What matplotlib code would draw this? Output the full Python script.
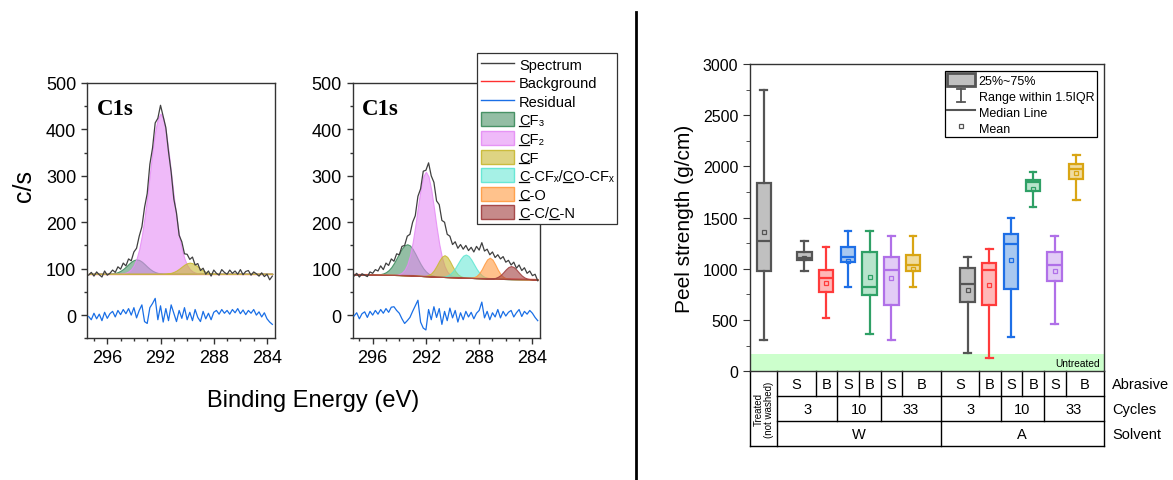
import numpy as np
import matplotlib
matplotlib.use("Agg")
import matplotlib.pyplot as plt
from matplotlib.patches import Patch
from matplotlib.lines import Line2D
from matplotlib.legend_handler import HandlerBase
from matplotlib.ticker import MultipleLocator
import matplotlib.colors as mcolors

plt.rcParams['font.family'] = ['Liberation Sans', 'DejaVu Sans']

# ---------------- XPS data (C1s) ----------------
energy = np.round(297.4 - 0.2 * np.arange(70), 1)   # binding energy grid (eV)

spec1 = [86, 92, 84, 93, 87, 82, 95, 86, 90, 97,
         92, 104, 99, 112, 106, 121, 117, 136, 144, 170,
         190, 232, 262, 325, 360, 414, 424, 452, 428, 404,
         352, 308, 250, 220, 172, 158, 132, 131, 120, 125,
         108, 111, 96, 101, 88, 95, 84, 97, 90, 86,
         98, 92, 88, 97, 90, 95, 88, 98, 87, 94,
         96, 86, 93, 89, 84, 91, 83, 88, 76, 84]
resid1 = [-3, -10, 4, -8, 2, -12, 6, -7, 3, 8,
          -4, 10, 1, 12, 3, 14, 0, 16, -6, 10,
          22, -14, -18, 16, 25, 36, -10, 20, -15, 14,
          -12, 22, 4, -14, 10, -7, 16, -10, 6, -12,
          12, -5, -14, 8, -8, 4, -10, 6, 10, 2,
          12, 4, 10, 2, 12, 5, 14, 3, 11, 1,
          10, 4, 12, 0, 7, -4, 5, -8, -15, -20]
bg1 = [89.0] * 70
cf3_1 = [0] * 8 + [0.4, 0.9, 1.9, 3.7, 6.5, 10.5, 15.5, 21.0, 26.1, 29.7, 31, 29.7, 26.1,
                   21.0, 15.5, 10.5, 6.5, 3.7, 1.9, 0.9, 0.4] + [0] * 41
cf2_1 = [0] * 12 + [0.5, 1.1, 2.5, 5.2, 10.1, 18.6, 32.5, 53.3, 82.6, 121, 166, 216, 265,
                    307, 335, 345, 335, 307, 265, 216, 166, 121, 82.6, 53.3, 32.5, 18.6,
                    10.1, 5.2, 2.5, 1.1, 0.5] + [0] * 27
cf_1 = [0] * 29 + [0.4, 1.0, 2.1, 4.1, 7.0, 10.9, 15.4, 19.7, 22.8, 24, 22.8, 19.7, 15.4,
                   10.9, 7.0, 4.1, 2.1, 1.0, 0.4] + [0] * 22

spec2 = [84, 90, 82, 89, 86, 83, 93, 90, 98, 95,
         106, 98, 112, 107, 121, 116, 132, 130, 148, 150,
         170, 174, 200, 214, 256, 272, 310, 312, 328, 300,
         286, 246, 238, 204, 200, 174, 170, 152, 158, 144,
         152, 142, 150, 139, 146, 136, 148, 140, 156, 138,
         142, 130, 136, 124, 130, 121, 126, 114, 118, 108,
         114, 101, 108, 96, 102, 90, 95, 85, 88, 74]
resid2 = [-2, 5, -8, 3, 7, -5, 8, 0, 10, 2,
          12, 4, 14, 6, 17, 18, 10, 4, -8, -18,
          -12, -5, 8, 20, 32, -15, -28, -32, 12, -10,
          18, -5, 14, -20, 8, -12, 15, -6, 10, -15,
          5, -10, 8, -4, 6, -8, 4, 10, 28, -6,
          8, -10, 5, -4, 12, -6, 8, -2, 6, 10,
          -4, 5, 12, -3, 8, 2, 10, 4, -5, -12]
bg2 = [87.5, 87.5, 87.4, 87.4, 87.3, 87.3, 87.2, 87.2, 87.1, 87.0,
       87.0, 86.9, 86.8, 86.7, 86.6, 86.5, 86.4, 86.3,
       86.1, 85.9, 85.7, 85.5, 85.2, 85.0, 84.7, 84.4, 84.1, 83.8,
       83.5, 83.2, 83.0, 82.7, 82.5, 82.3, 82.1, 81.9, 81.7, 81.5,
       81.3, 81.1, 80.9, 80.7, 80.5, 80.3, 80.1, 79.9, 79.7, 79.5,
       79.3, 79.1, 78.9, 78.7, 78.5, 78.3, 78.2, 78.0, 77.9, 77.8,
       77.7, 77.6, 77.5, 77.4, 77.3, 77.2, 77.1, 77.0, 76.9, 76.8, 76.7, 76.6]
cf3_2 = [0] * 9 + [0.6, 1.4, 3.0, 5.7, 10.2, 16.8, 25.7, 36.3, 47.4, 57.5, 64.5, 67, 64.5,
                   57.5, 47.4, 36.3, 25.7, 16.8, 10.2, 5.7, 3.0, 1.4, 0.6] + [0] * 38
cf2_2 = [0] * 16 + [0.8, 2.2, 5.3, 11.7, 23.4, 42.7, 70.9, 107.4, 148.5, 187, 214.9, 225,
                    214.9, 187, 148.5, 107.4, 70.9, 42.7, 23.4, 11.7, 5.3, 2.2, 0.8] + [0] * 31
cf_2 = [0] * 26 + [0.3, 1.1, 2.9, 6.8, 13.7, 23.5, 34.5, 43.5, 47, 43.5, 34.5, 23.5, 13.7,
                   6.8, 2.9, 1.1, 0.3] + [0] * 27
ccfx_2 = [0] * 33 + [0.5, 1.3, 3.1, 6.5, 12.2, 20.2, 30.1, 39.9, 47.3, 50, 47.3, 39.9, 30.1,
                     20.2, 12.2, 6.5, 3.1, 1.3, 0.5] + [0] * 18
co_2 = [0] * 44 + [0.5, 1.7, 4.6, 10.4, 19.7, 31.2, 41.1, 45, 41.1, 31.2, 19.7, 10.4, 4.6,
                   1.7, 0.5] + [0] * 11
cc_2 = [0] * 52 + [0.6, 1.7, 4.1, 8.1, 14.0, 20.6, 25.9, 28, 25.9, 20.6, 14.0, 8.1, 4.1,
                   1.7, 0.6] + [0] * 3

comp_names = ['CF\u2083', 'CF\u2082', 'CF', 'C-CF\u2093/CO-CF\u2093', 'C-O', 'C-C/C-N']
comp_underline = [[0], [0], [0], [0, 6], [0], [0, 4]]   # character indices underlined
comp_colors = ['#3a8a5a', '#e58cf5', '#c8b830', '#5ee6d2', '#ff9a40', '#a03c3c']
comp_alpha = [0.55, 0.6, 0.6, 0.55, 0.6, 0.6]
comps1 = [cf3_1, cf2_1, cf_1, None, None, None]
comps2 = [cf3_2, cf2_2, cf_2, ccfx_2, co_2, cc_2]

# ---------------- Peel strength data ----------------
box_labels = ['Treated', 'W-3-S', 'W-3-B', 'W-10-S', 'W-10-B', 'W-33-S', 'W-33-B',
              'A-3-S', 'A-3-B', 'A-10-S', 'A-10-B', 'A-33-S', 'A-33-B']
whislo = [309, 983, 518, 827, 365, 309, 827, 182, 130, 335, 1605, 465, 1674]
q1 = [983, 1088, 778, 1065, 749, 645, 980, 674, 651, 801, 1762, 879, 1876]
med = [1270, 1107, 909, 1114, 827, 986, 1039, 853, 987, 1244, 1847, 1039, 1974]
q3 = [1840, 1169, 986, 1218, 1169, 1114, 1139, 1012, 1061, 1345, 1866, 1163, 2019]
whishi = [2749, 1270, 1218, 1374, 1374, 1322, 1322, 1117, 1195, 1501, 1944, 1322, 2116]
means = [1361, 1110, 866, 1078, 918, 912, 997, 797, 843, 1088, 1778, 983, 1935]
untreated_level = 170

abrasive = ['S', 'B'] * 6
cycles = ['3', '10', '33'] * 2
solvent = ['W', 'A']

# layout (positions / styles)
box_pos = [0.63, 2.5, 3.5, 4.5, 5.5, 6.5, 7.5, 10, 11, 12, 13, 14, 15]
edge_cols = ['#555555', '#555555', '#ff3b3b', '#1e6fe6', '#2fa066', '#b070e8', '#d9a514',
             '#555555', '#ff3b3b', '#1e6fe6', '#2fa066', '#b070e8', '#d9a514']
face_cols = ['#c0c0c0', '#c0c0c0', '#ffb8b8', '#a8c8f0', '#b8e4cc', '#e2ccf6', '#f0dca0',
             '#c0c0c0', '#ffb8b8', '#a8c8f0', '#b8e4cc', '#e2ccf6', '#f0dca0']
XMAX = 16.25
abr_edges = [1.26, 3.02, 4.0, 5.0, 6.0, 7.0, 8.77, 10.54, 11.53, 12.51, 13.52, 14.51, XMAX]
cyc_edges = [1.26, 4.0, 6.0, 8.77, 11.53, 13.52, XMAX]
sol_edges = [1.26, 8.77, XMAX]

W, H = 1173, 481
fig = plt.figure(figsize=(W / 100, H / 100), dpi=100)


def fx(px):
    return px / W


def fy(py):
    return 1 - py / H


spine_col = '#333333'


def draw_xps(ax, spec, bg, resid, comps):
    bg = np.array(bg)
    ax.plot(energy, bg, color='#ff3030', lw=0.9, zorder=1)
    for vals, col, a in zip(comps, comp_colors, comp_alpha):
        if vals is None:
            continue
        ax.fill_between(energy, bg, bg + np.array(vals),
                        facecolor=mcolors.to_rgba(col, a),
                        edgecolor=mcolors.to_rgba(col, 0.85), lw=0.8, zorder=2)
    ax.plot(energy, spec, color='#404040', lw=0.9, zorder=3)
    ax.plot(energy, resid, color='#1a6fe6', lw=0.9, zorder=3)
    ax.set_xlim(297.5, 283.4)
    ax.set_ylim(-50, 500)
    ax.xaxis.set_major_locator(MultipleLocator(4))
    ax.xaxis.set_minor_locator(MultipleLocator(1))
    ax.yaxis.set_major_locator(MultipleLocator(100))
    ax.yaxis.set_minor_locator(MultipleLocator(50))
    ax.set_yticks([0, 100, 200, 300, 400, 500])
    ax.tick_params(which='both', direction='out', top=False, right=False,
                   labelsize=13, color=spine_col, width=1)
    ax.tick_params(which='major', length=4.5)
    ax.tick_params(which='minor', length=2.5)
    for s in ax.spines.values():
        s.set_color(spine_col)
        s.set_linewidth(1)
    ax.text(0.05, 0.878, 'C1s', transform=ax.transAxes, family='Liberation Serif',
            fontweight='bold', fontsize=16.5, va='baseline', ha='left')


axw = 187.7
ax1 = fig.add_axes([fx(87.3), fy(339.3), fx(axw), 255.3 / H])
ax2 = fig.add_axes([fx(352.7), fy(339.3), fx(axw), 255.3 / H])
draw_xps(ax1, spec1, bg1, resid1, comps1)
draw_xps(ax2, spec2, bg2, resid2, comps2)

fig.text(fx(24), fy(186), 'c/s', rotation=90, fontsize=18, ha='center', va='center')
fig.text(fx(313), fy(401), 'Binding Energy (eV)', fontsize=17, ha='center', va='center')

leg_handles = [Line2D([], [], color='#404040', lw=1),
               Line2D([], [], color='#ff3030', lw=1),
               Line2D([], [], color='#1a6fe6', lw=1)]
for col, a in zip(comp_colors, comp_alpha):
    leg_handles.append(Patch(facecolor=mcolors.to_rgba(col, a),
                             edgecolor=mcolors.to_rgba(col, 0.9), lw=1))
leg_labels = ['Spectrum', 'Background', 'Residual'] + comp_names
lg1 = fig.legend(leg_handles, leg_labels, loc='upper left',
                 bbox_to_anchor=(fx(477.3), fy(54)), bbox_transform=fig.transFigure,
                 fontsize=10.5, fancybox=False, framealpha=1, edgecolor=spine_col,
                 borderpad=0.25, handlelength=2.3, handleheight=1.1,
                 handletextpad=0.3, labelspacing=0.25, borderaxespad=0)
lg1.get_frame().set_linewidth(0.9)

# divider
fig.add_artist(Line2D([fx(635.5), fx(635.5)], [fy(13), 0], transform=fig.transFigure,
                      color='black', lw=2))

# ---------------- box plot ----------------
ax3 = fig.add_axes([fx(750), fy(372.3), fx(353.5), 307.3 / H])
ax3.axhspan(0, untreated_level, color='#ccffcc', lw=0, zorder=0)
for i in range(len(box_labels)):
    st = dict(med=med[i], q1=q1[i], q3=q3[i], whislo=whislo[i], whishi=whishi[i],
              mean=means[i], fliers=[], label=box_labels[i])
    ec = edge_cols[i]
    ax3.bxp([st], positions=[box_pos[i]], widths=0.66, capwidths=0.3,
            showmeans=True, patch_artist=True, manage_ticks=False,
            boxprops=dict(facecolor=face_cols[i], edgecolor=ec, lw=1.6),
            whiskerprops=dict(color=ec, lw=1.6), capprops=dict(color=ec, lw=1.6),
            medianprops=dict(color=ec, lw=1.6),
            meanprops=dict(marker='s', markersize=3, markerfacecolor='none',
                           markeredgecolor=ec, markeredgewidth=0.9))
ax3.set_xlim(0, XMAX)
ax3.set_ylim(0, 3000)
ax3.set_xticks([])
ax3.yaxis.set_major_locator(MultipleLocator(500))
ax3.yaxis.set_minor_locator(MultipleLocator(250))
ax3.tick_params(which='both', direction='out', labelsize=11.5, color=spine_col)
ax3.tick_params(which='major', length=5)
ax3.tick_params(which='minor', length=3)
for s in ax3.spines.values():
    s.set_color(spine_col)
    s.set_linewidth(1)
ax3.set_ylabel('Peel strength (g/cm)', fontsize=15, labelpad=6)
ax3.text(16.1, 78, 'Untreated', fontsize=7.3, ha='right', va='center')


class HandlerIBeam(HandlerBase):
    def create_artists(self, legend, orig_handle, xdescent, ydescent, width, height,
                       fontsize, trans):
        cx = width / 2 - xdescent
        y0, y1 = -ydescent, -ydescent + height
        cw = 0.14 * width
        kw = dict(color='#555555', lw=1.3, transform=trans)
        return [Line2D([cx, cx], [y0, y1], **kw),
                Line2D([cx - cw, cx + cw], [y0, y0], **kw),
                Line2D([cx - cw, cx + cw], [y1, y1], **kw)]


class IBeam:
    pass


h_box = Patch(facecolor='#c0c0c0', edgecolor='#555555', lw=2)
h_rng = IBeam()
h_med = Line2D([], [], color='#555555', lw=1.5)
h_mean = Line2D([], [], ls='none', marker='s', markersize=3, markerfacecolor='none',
                markeredgecolor='#555555', markeredgewidth=0.9)
lg2 = ax3.legend([h_box, h_rng, h_med, h_mean],
                 ['25%~75%', 'Range within 1.5IQR', 'Median Line', 'Mean'],
                 handler_map={IBeam: HandlerIBeam()},
                 loc='upper right', bbox_to_anchor=(0.981, 0.978), borderaxespad=0,
                 fontsize=9, fancybox=False, framealpha=1, edgecolor='black',
                 borderpad=0.2, handlelength=2.2, handleheight=1.15,
                 handletextpad=0.3, labelspacing=0.2)
lg2.get_frame().set_linewidth(0.9)

# ---------------- table below the box plot ----------------
trans = ax3.get_xaxis_transform()
rh = 25 / 307.3
lk = dict(color='black', lw=1, transform=trans, clip_on=False)
for yy in (-rh, -2 * rh):
    ax3.add_line(Line2D([abr_edges[0], XMAX], [yy, yy], **lk))
ax3.add_line(Line2D([0, XMAX], [-3 * rh, -3 * rh], **lk))
ax3.add_line(Line2D([0, 0], [0, -3 * rh], **lk))
ax3.add_line(Line2D([XMAX, XMAX], [0, -3 * rh], **lk))
ax3.add_line(Line2D([abr_edges[0], abr_edges[0]], [0, -3 * rh], **lk))
for xe in abr_edges[1:-1]:
    ax3.add_line(Line2D([xe, xe], [0, -rh], **lk))
for xe in cyc_edges[1:-1]:
    ax3.add_line(Line2D([xe, xe], [-rh, -2 * rh], **lk))
for xe in sol_edges[1:-1]:
    ax3.add_line(Line2D([xe, xe], [-2 * rh, -3 * rh], **lk))

tk = dict(transform=trans, ha='center', va='center', fontsize=10.5, clip_on=False)
for i, t in enumerate(abrasive):
    ax3.text((abr_edges[i] + abr_edges[i + 1]) / 2, -0.5 * rh, t, **tk)
for i, t in enumerate(cycles):
    ax3.text((cyc_edges[i] + cyc_edges[i + 1]) / 2, -1.5 * rh, t, **tk)
for i, t in enumerate(solvent):
    ax3.text((sol_edges[i] + sol_edges[i + 1]) / 2, -2.5 * rh, t, **tk)
ax3.text(abr_edges[0] / 2, -1.5 * rh, 'Treated\n(not washed)', transform=trans,
         ha='center', va='center', rotation=90, fontsize=7, linespacing=1.0,
         multialignment='center', clip_on=False)
for j, t in enumerate(['Abrasive', 'Cycles', 'Solvent']):
    ax3.text(1.024, -(j + 0.5) * rh, t, transform=ax3.transAxes, ha='left', va='center',
             fontsize=10.5, clip_on=False)

# ---------------- underline the "C" characters in the XPS legend ----------------
fig.canvas.draw()
renderer = fig.canvas.get_renderer()
inv = fig.transFigure.inverted()
for txt, idxs in zip(lg1.get_texts()[3:], comp_underline):
    s = txt.get_text()
    prop = txt.get_fontproperties()
    bb = txt.get_window_extent(renderer)
    _, _, d_s = renderer.get_text_width_height_descent(s, prop, ismath=False)
    _, _, d_lp = renderer.get_text_width_height_descent('lp', prop, ismath=False)
    base = bb.y0 + max(d_s, d_lp)
    yline = base - 1.6
    for k in idxs:
        w0 = renderer.get_text_width_height_descent(s[:k], prop, ismath=False)[0] if k > 0 else 0
        w1 = renderer.get_text_width_height_descent(s[:k + 1], prop, ismath=False)[0]
        p0 = inv.transform((bb.x0 + w0, yline))
        p1 = inv.transform((bb.x0 + w1, yline))
        fig.add_artist(Line2D([p0[0], p1[0]], [p0[1], p1[1]], transform=fig.transFigure,
                              color='black', lw=0.9, zorder=10))

fig.savefig('out.png', dpi=100)
